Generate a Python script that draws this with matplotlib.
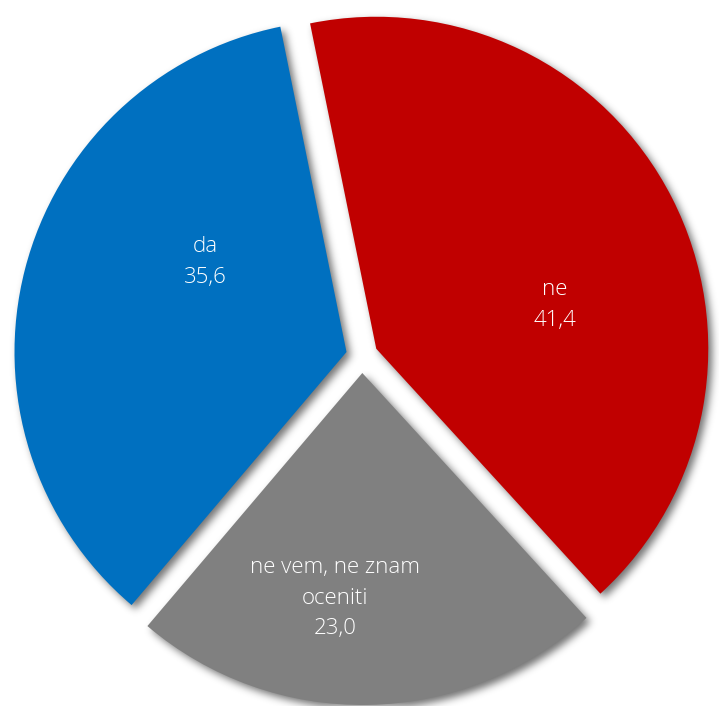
import numpy as np
import matplotlib
matplotlib.use("Agg")
import matplotlib.pyplot as plt

# data
categories = ["ne", "ne vem, ne znam\noceniti", "da"]
values = [41.4, 23.0, 35.6]
value_labels = ["41,4", "23,0", "35,6"]
colors = ["#C00000", "#808080", "#0070C0"]

# layout (pixel units, y up)
W, H = 719, 706
center = (362, 350)
radius = 332
explode = [16, 17, 16]
start = 101.5
label_pos = [(555, 401), (335, 108), (205, 444)]

plt.rcParams['font.family'] = ['Open Sans', 'DejaVu Sans']


def draw_pie(ax, cols, ctr):
    ax.pie(values, colors=cols, startangle=start, counterclock=False,
           radius=radius, center=ctr, explode=explode,
           wedgeprops=dict(linewidth=0))
    ax.set_xlim(0, W)
    ax.set_ylim(0, H)
    ax.set_aspect('auto')
    ax.axis('off')


def blur(a, sigma):
    k = np.arange(-int(3 * sigma), int(3 * sigma) + 1)
    g = np.exp(-k ** 2 / (2.0 * sigma ** 2))
    g /= g.sum()
    a = np.apply_along_axis(lambda r: np.convolve(r, g, mode='same'), 0, a)
    a = np.apply_along_axis(lambda r: np.convolve(r, g, mode='same'), 1, a)
    return a


# render the pie once in black offscreen to get a shadow mask
sfig = plt.figure(figsize=(W / 100, H / 100), dpi=100)
sfig.patch.set_alpha(0)
sax = sfig.add_axes([0, 0, 1, 1])
sax.patch.set_alpha(0)
draw_pie(sax, ["k"] * len(values), (center[0] + 4, center[1] - 4))
sfig.canvas.draw()
mask = np.asarray(sfig.canvas.buffer_rgba())[:, :, 3].astype(float) / 255.0
plt.close(sfig)
mask = blur(mask, 4.0)

shadow = np.zeros((mask.shape[0], mask.shape[1], 4))
shadow[:, :, 3] = mask * 0.55

fig = plt.figure(figsize=(W / 100, H / 100), dpi=100)
ax = fig.add_axes([0, 0, 1, 1])
ax.imshow(shadow, extent=(0, W, 0, H), origin='upper', zorder=0,
          interpolation='bilinear')
draw_pie(ax, colors, center)
for p in ax.patches:
    p.set_zorder(2)

for cat, lab, (x, y) in zip(categories, value_labels, label_pos):
    ax.text(x, y, cat + "\n" + lab, color="white", fontsize=16,
            fontweight="light", ha="center", va="center",
            linespacing=1.6, zorder=3)

fig.savefig("out.png", dpi=100)
